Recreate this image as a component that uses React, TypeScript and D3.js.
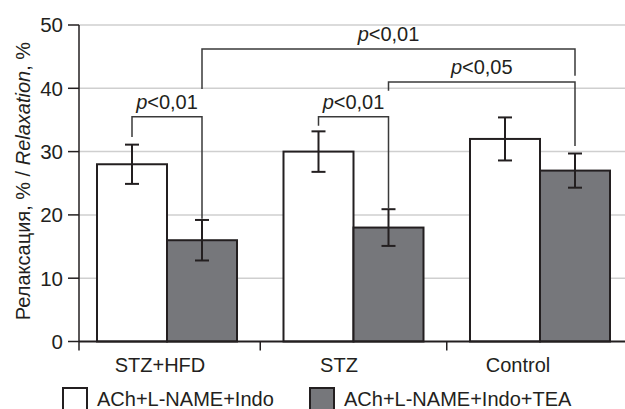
import React from 'react';
import * as d3 from 'd3';

// groups and series
const categories = ['STZ+HFD', 'STZ', 'Control'];
const seriesNames = ['ACh+L-NAME+Indo', 'ACh+L-NAME+Indo+TEA'];
const meansIndo = [28, 30, 32];
const meansTea = [16, 18, 27];
const errIndo = [3.1, 3.2, 3.4];
const errTea = [3.2, 2.9, 2.7];
const yTicks = [0, 10, 20, 30, 40, 50];

// significance brackets: [category, series] endpoints, levels in axis units
const brackets = [
  { from: [0, 0], to: [0, 1], top: 35.5, leftEnd: 32.3, rightEnd: 19.4, label: '0,01' },
  { from: [0, 1], to: [2, 1], top: 46.2, leftEnd: 39.9, rightEnd: 42, label: '0,01' },
  { from: [1, 0], to: [1, 1], top: 35.5, leftEnd: 34.1, rightEnd: 21, label: '0,01' },
  { from: [1, 1], to: [2, 1], top: 41, leftEnd: 39.6, rightEnd: 30.9, label: '0,05' },
];

const FONT = "'Liberation Sans', Arial, sans-serif";
const INK = '#231f20';
const GREY = '#76777b';

export default function App() {
  const width = 625;
  const height = 409;
  const axisX = 79;
  const axisY = 341.5;

  const yScale = d3.scaleLinear().domain([0, 50]).range([axisY, 25]);

  // bands for groups, inner band for the two bars
  const x0 = d3.scaleBand<string>()
    .domain(categories)
    .range([97, 610])
    .paddingInner(0.2493)
    .paddingOuter(0);
  const x1 = d3.scaleBand<string>()
    .domain(seriesNames)
    .range([0, x0.bandwidth()]);

  // category labels sit a bit left of the bars
  const xLabel = d3.scalePoint<string>().domain(categories).range([160, 518]);

  const values = [meansIndo, meansTea];
  const errors = [errIndo, errTea];
  const fills = ['#ffffff', GREY];

  const barCenter = (ci: number, si: number) =>
    (x0(categories[ci]) ?? 0) + (x1(seriesNames[si]) ?? 0) + x1.bandwidth() / 2;

  const step = x0.step();
  const gap = step - x0.bandwidth();
  const separators = categories.slice(0, -1).map(c => (x0(c) ?? 0) + x0.bandwidth() + gap / 2);

  return (
    <svg
      width={width}
      height={height}
      style={{ position: 'absolute', left: 0, top: 0, background: '#fff' }}
      fontFamily={FONT}
    >
      {/* gridlines */}
      {yTicks.filter(t => t > 0).map(t => (
        <line key={t} x1={axisX} x2={width} y1={yScale(t)} y2={yScale(t)} stroke="#cfcfcf" strokeWidth={1.5} />
      ))}

      {/* bars */}
      {categories.map((cat, ci) => (
        <g key={cat}>
          {seriesNames.map((s, si) => (
            <rect
              key={s}
              x={(x0(cat) ?? 0) + (x1(s) ?? 0)}
              y={yScale(values[si][ci])}
              width={x1.bandwidth()}
              height={axisY - yScale(values[si][ci])}
              fill={fills[si]}
              stroke={INK}
              strokeWidth={2}
            />
          ))}
        </g>
      ))}

      {/* error bars */}
      {categories.map((cat, ci) =>
        seriesNames.map((s, si) => {
          const cx = barCenter(ci, si);
          const hi = yScale(values[si][ci] + errors[si][ci]);
          const lo = yScale(values[si][ci] - errors[si][ci]);
          return (
            <g key={cat + s} stroke={INK} strokeWidth={2}>
              <line x1={cx} x2={cx} y1={hi} y2={lo} />
              <line x1={cx - 7} x2={cx + 7} y1={hi} y2={hi} />
              <line x1={cx - 7} x2={cx + 7} y1={lo} y2={lo} />
            </g>
          );
        })
      )}

      {/* significance brackets */}
      {brackets.map((b, i) => {
        const xa = barCenter(b.from[0], b.from[1]);
        const xb = barCenter(b.to[0], b.to[1]);
        const yt = yScale(b.top);
        return (
          <g key={i}>
            <path
              d={`M${xa},${yScale(b.leftEnd)}V${yt}H${xb}V${yScale(b.rightEnd)}`}
              fill="none"
              stroke="#3a3a3a"
              strokeWidth={1.5}
            />
            <text x={(xa + xb) / 2} y={yt - 8} textAnchor="middle" fontSize={20} fill={INK}>
              <tspan fontStyle="italic">p</tspan>&lt;{b.label}
            </text>
          </g>
        );
      })}

      {/* y axis */}
      <line x1={axisX} x2={axisX} y1={yScale(50)} y2={axisY + 9} stroke={INK} strokeWidth={1.5} />
      {yTicks.map(t => (
        <g key={t}>
          <line x1={axisX - 11} x2={axisX} y1={yScale(t)} y2={yScale(t)} stroke={INK} strokeWidth={1.5} />
          <text x={axisX - 16} y={yScale(t)} dy="0.36em" textAnchor="end" fontSize={20.5} fill={INK}>
            {t}
          </text>
        </g>
      ))}

      {/* x axis */}
      <line x1={axisX} x2={width} y1={axisY} y2={axisY} stroke={INK} strokeWidth={2} />
      {separators.map((sx, i) => (
        <line key={i} x1={sx} x2={sx} y1={axisY} y2={axisY + 9} stroke={INK} strokeWidth={1.5} />
      ))}
      {categories.map(cat => (
        <text key={cat} x={xLabel(cat)} y={372} textAnchor="middle" fontSize={20} fill={INK}>
          {cat}
        </text>
      ))}

      {/* y label */}
      <text
        transform={`translate(30, 181) rotate(-90)`}
        textAnchor="middle"
        fontSize={20}
        fill={INK}
      >
        Релаксация, % / <tspan fontStyle="italic">Relaxation</tspan>, %
      </text>

      {/* legend */}
      {seriesNames.map((s, si) => {
        const lx = [63, 310][si];
        return (
          <g key={s}>
            <rect x={lx} y={388} width={24} height={26} fill={fills[si]} stroke={INK} strokeWidth={2} />
            <text x={lx + 34} y={406} fontSize={20} fill={INK}>
              {s}
            </text>
          </g>
        );
      })}
    </svg>
  );
}
